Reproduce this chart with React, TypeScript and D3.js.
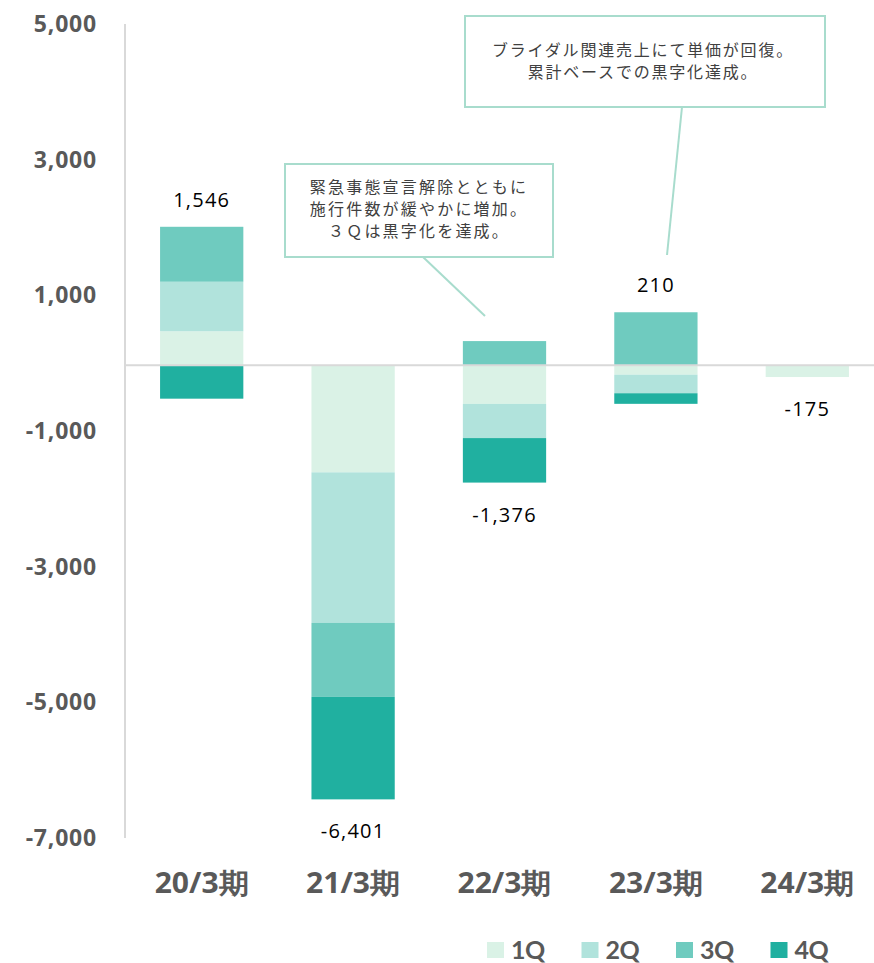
import React from "react";
import * as d3 from "d3";

const categories = ["20/3期", "21/3期", "22/3期", "23/3期", "24/3期"];
const seriesNames = ["1Q", "2Q", "3Q", "4Q"];
const q1 = [500, -1580, -570, -140, -175];
const q2 = [730, -2220, -505, -274, 0];
const q3 = [810, -1090, 355, 780, 0];
const q4 = [-494, -1511, -656, -156, 0];
const totals = [1546, -6401, -1376, 210, -175];
const yTicks = [5000, 3000, 1000, -1000, -3000, -5000, -7000];
const colors = ["#DAF2E6", "#B1E3DC", "#6FCBBF", "#20B0A0"];
const note1 = ["緊急事態宣言解除とともに", "施行件数が緩やかに増加。", "３Ｑは黒字化を達成。"];
const note2 = ["ブライダル関連売上にて単価が回復。", "累計ベースでの黒字化達成。"];

export default function App() {
  const W = 874, H = 963;
  const y = d3.scaleLinear().domain([-7000, 5000]).range([840, 26]);
  const x = d3.scaleBand().domain(categories).range([126, 883]).paddingInner(0.45).paddingOuter(0.225);
  const series = [q1, q2, q3, q4];
  const fmt = (v: number) => d3.format(",")(v).replace("−", "-");
  const jp = "'Noto Sans CJK JP', 'Noto Sans', sans-serif";
  const num = "'Open Sans', 'Noto Sans', sans-serif";

  const rects: any[] = [];
  categories.forEach((c, i) => {
    let pos = 0, neg = 0;
    series.forEach((s, k) => {
      const v = s[i];
      if (v === 0) return;
      let y0, y1;
      if (v > 0) { y0 = pos; y1 = pos + v; pos = y1; }
      else { y0 = neg; y1 = neg + v; neg = y1; }
      rects.push(
        <rect key={c + k} x={x(c)} width={x.bandwidth()} y={y(Math.max(y0, y1))}
          height={Math.abs(y(y0) - y(y1))} fill={colors[k]} />
      );
    });
  });

  const labelPos = (i: number) => {
    let pos = 0, neg = 0;
    series.forEach(s => { if (s[i] > 0) pos += s[i]; else neg += s[i]; });
    return totals[i] >= 0 ? y(pos) - 27 : y(neg) + 32;
  };

  return (
    <svg width={W} height={H} style={{ position: "absolute", left: 0, top: 0 }}>
      <rect width={W} height={H} fill="#fff" />
      {rects}
      <line x1={125} x2={874} y1={y(0)} y2={y(0)} stroke="#D9D9D9" strokeWidth={2} />
      <line x1={125} x2={125} y1={24} y2={838} stroke="#D9D9D9" strokeWidth={2} />
      {yTicks.map(t => (
        <text key={t} x={97} y={y(t) - 2} dy="0.35em" textAnchor="end" fontFamily={num}
          fontWeight={700} fontSize={23} fill="#595959" letterSpacing={0.8}>{fmt(t)}</text>
      ))}
      {categories.map(c => (
        <text key={c} x={x(c)! + x.bandwidth() / 2 - 47} y={883} dy="0.35em" textAnchor="start"
          fontFamily={num} fontWeight={700} fontSize={28} fill="#595959"
          textLength={94} lengthAdjust="spacingAndGlyphs">{c}</text>
      ))}
      {categories.map((c, i) => (
        <text key={"t" + c} x={x(c)! + x.bandwidth() / 2} y={labelPos(i)} dy="0.35em" textAnchor="middle"
          fontFamily={num} fontSize={20} fill="#000" letterSpacing={1.2}>{fmt(totals[i])}</text>
      ))}
      {seriesNames.map((s, k) => (
        <g key={s} transform={`translate(${487 + k * 94.5},942)`}>
          <rect width={17} height={16} fill={colors[k]} />
          <text x={24} y={8} dy="0.35em" fontFamily="Lato, 'Open Sans', sans-serif" fontWeight={700} fontSize={25}
            fill="#595959" letterSpacing={-0.5}>{s}</text>
        </g>
      ))}
      {/* callout 1 */}
      <line x1={423} y1={257} x2={485} y2={316} stroke="#A8DCCD" strokeWidth={2} />
      <rect x={285} y={164} width={268} height={93} fill="#fff" stroke="#A8DCCD" strokeWidth={2} />
      {note1.map((t, i) => (
        <text key={t} x={419} y={187 + i * 22} dy="0.35em" textAnchor="middle" fontFamily={jp}
          fontSize={16} fill="#404040" letterSpacing={2.2}>{t}</text>
      ))}
      {/* callout 2 */}
      <line x1={682} y1={107} x2={667} y2={255} stroke="#A8DCCD" strokeWidth={2} />
      <rect x={465} y={16} width={360} height={91} fill="#fff" stroke="#A8DCCD" strokeWidth={2} />
      {note2.map((t, i) => (
        <text key={t} x={643} y={50 + i * 22} dy="0.35em" textAnchor="middle" fontFamily={jp}
          fontSize={16} fill="#404040" letterSpacing={1.8}>{t}</text>
      ))}
    </svg>
  );
}
